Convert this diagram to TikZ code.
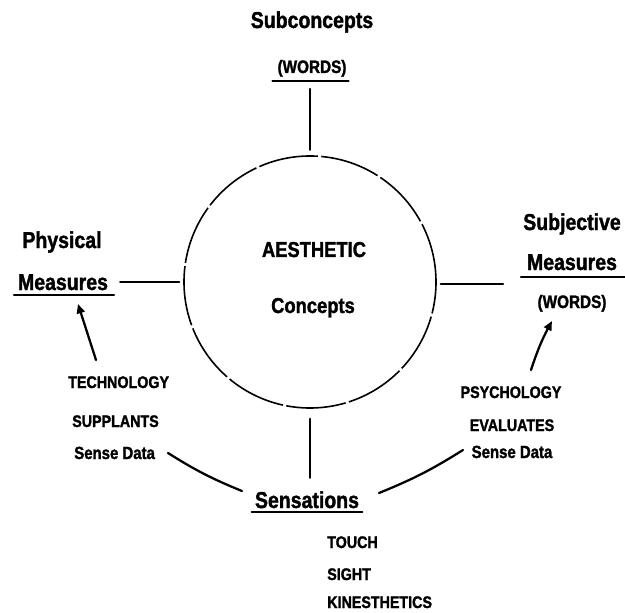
\documentclass[tikz,border=0pt]{standalone}
\usepackage{fontspec}
\newfontfamily\labfont{Liberation Sans}[FakeStretch=0.85,FakeBold=1.5]
\usetikzlibrary{arrows.meta}
\begin{document}
\begin{tikzpicture}[x=0.75pt,y=-0.75pt,
  lbl/.style={inner sep=0pt, font=\labfont\bfseries\fontsize{17.2}{19}\selectfont},
  mid/.style={inner sep=0pt, font=\labfont\bfseries\fontsize{16.2}{18}\selectfont},
  caps/.style={inner sep=0pt, font=\labfont\bfseries\fontsize{12.6}{14}\selectfont},
  wrd/.style={inner sep=0pt, font=\labfont\bfseries\fontsize{13.5}{15}\selectfont},
  sd/.style={inner sep=0pt, font=\labfont\bfseries\fontsize{13.2}{15}\selectfont},
  conn/.style={line width=1.7pt, line cap=round},
  uline/.style={line width=1.5pt, line cap=round},
  arr/.style={conn, -{Triangle[length=7pt,width=6pt]}},
]
\useasboundingbox (0,0) rectangle (625,613);

% central circle
\node[circle, draw, line width=1.2pt, dash pattern=on 45pt off 2.5pt,
      minimum size=189pt, inner sep=0pt] (C) at (310,282) {};
\node[mid, anchor=base] (aes) at (314,257) {AESTHETIC};
\node[mid, anchor=base] (con) at (313,313) {Concepts};

% top
\node[lbl, anchor=base] (sub) at (312,28) {Subconcepts};
\node[wrd, anchor=base] (w1) at (312,73) {(WORDS)};
\draw[uline] ([shift={(-5,8)}]w1.base west) -- ([shift={(2,8)}]w1.base east);
\draw[conn, shorten <=9pt, shorten >=4pt] (C.north |- w1.south) -- (C.north);

% left
\node[lbl, anchor=base] (phy) at (62,248) {Physical};
\node[lbl, anchor=base] (meL) at (63,290) {Measures};
\draw[uline] ([shift={(-4,5)}]meL.base west) -- ([shift={(6,5)}]meL.base east);
\draw[conn, shorten <=9pt, shorten >=3pt] (C.west -| meL.east) -- (C.west);

\node[caps, anchor=base west] (tech) at (68,388) {TECHNOLOGY};
\node[caps, anchor=base west] (supp) at (72,427) {SUPPLANTS};
\node[sd, anchor=base west] (sdL) at (74,459) {Sense Data};
\coordinate (aLs) at (96,360);
\coordinate (aLe) at (78,304);
\draw[arr] (aLs) -- (aLe);

% bottom
\node[lbl, anchor=base] (sens) at (307,508) {Sensations};
\draw[uline] ([shift={(-3,4)}]sens.base west) -- ([shift={(3,4)}]sens.base east);
\draw[conn, shorten <=7.5pt, shorten >=10pt] (C.south) -- (C.south |- sens.north);
\coordinate (cL1) at (168,453);
\coordinate (cL2) at (242,491);
\coordinate (cR1) at (379,493);
\coordinate (cR2) at (463,450);
\draw[conn] (cL1) to[bend right=5] (cL2);
\draw[conn] (cR1) to[bend right=5] (cR2);
\node[caps, anchor=base west] (touch) at (327,548) {TOUCH};
\node[caps, anchor=base west] (sight) at (327,580) {SIGHT};
\node[caps, anchor=base west] (kin) at (327,608) {KINESTHETICS};

% right
\node[lbl, anchor=base] (subj) at (572,230) {Subjective};
\node[lbl, anchor=base] (meR) at (572,270) {Measures};
\draw[uline] ([shift={(-6,7)}]meR.base west) -- (625,277);
\node[wrd, anchor=base] (w2) at (572,308) {(WORDS)};
\draw[conn, shorten <=3pt] ([shift={(0,2)}]C.east) -- (503,284);

\node[caps, anchor=base] (psy) at (511,398) {PSYCHOLOGY};
\node[caps, anchor=base] (eva) at (512,431) {EVALUATES};
\node[sd, anchor=base] (sdR) at (512,458) {Sense Data};
\coordinate (aRs) at (531,370);
\coordinate (aRe) at (552,321);
\draw[arr] (aRs) to[bend left=5] (aRe);
\end{tikzpicture}
\end{document}
